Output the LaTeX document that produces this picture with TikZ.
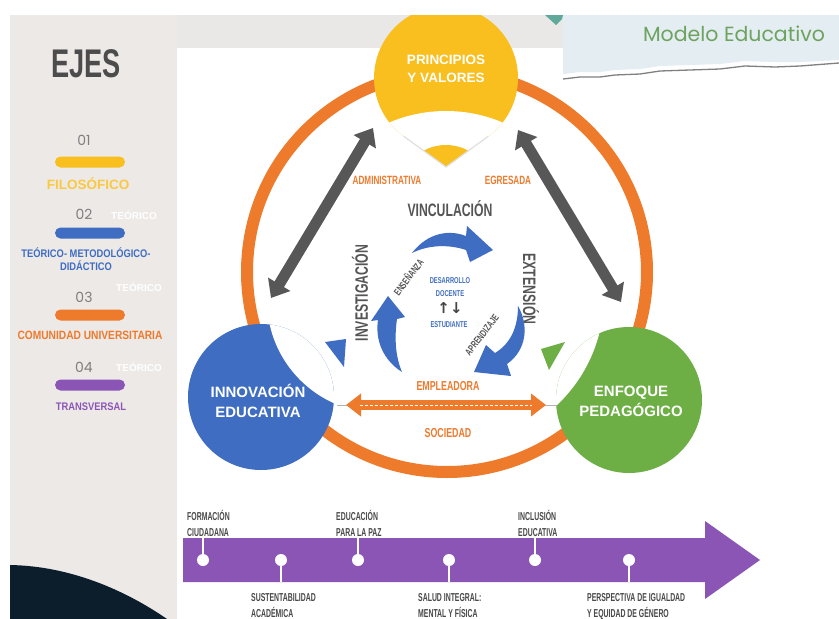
\documentclass[tikz,border=0pt]{standalone}
\usepackage{fontspec}
\setmainfont{Liberation Sans}
\newfontfamily\condfont[FakeStretch=0.68]{Liberation Sans}
\newfontfamily\tallfont[FakeStretch=0.6]{Liberation Sans}
\newfontfamily\narrowfont[FakeStretch=0.85]{Liberation Sans}
\newfontfamily\gothicfont{Poppins}
\newfontfamily\symbfont{DejaVu Sans}
\usetikzlibrary{arrows.meta}
\newcommand{\fsize}[2]{\fontsize{#1}{#2}\selectfont}
\definecolor{panelgrey}{HTML}{EDE9E7}
\definecolor{stripgrey}{HTML}{EAE8E6}
\definecolor{ringorange}{HTML}{EE7A2C}
\definecolor{pinyellow}{HTML}{F8BF1F}
\definecolor{pinblue}{HTML}{3E6DC2}
\definecolor{pingreen}{HTML}{6DAF45}
\definecolor{arrowgrey}{HTML}{575757}
\definecolor{linepurple}{HTML}{8B55B6}
\definecolor{navyblue}{HTML}{0C1D2B}
\definecolor{paperblue}{HTML}{E3EDF2}
\definecolor{titlegreen}{HTML}{7AB46A}
\definecolor{textgrey}{HTML}{555555}
\definecolor{numgrey}{HTML}{7F7F7F}
\definecolor{tabteal}{HTML}{5FA99A}

\begin{document}
\begin{tikzpicture}[x=1pt,y=-1pt]
\tikzstyle{pill}=[rounded corners=5.5pt,minimum width=70pt,minimum height=11pt,inner sep=0pt]
\tikzstyle{num}=[text=numgrey,font=\gothicfont\fsize{14}{14}]
\tikzstyle{ejelabel}=[font=\narrowfont\bfseries\fsize{11}{13},align=center,inner sep=0pt]
\tikzstyle{ghost}=[text=white,font=\bfseries\fsize{10}{10}]
\tikzstyle{bigdot}=[circle,minimum size=146pt,inner sep=0pt]
\tikzstyle{pintext}=[text=white,font=\bfseries\fsize{15}{20},align=center]
\tikzstyle{axis}=[text=textgrey,font=\condfont\bfseries\fsize{18}{18}]
\tikzstyle{actor}=[text=ringorange,font=\condfont\bfseries\fsize{12}{12}]
\tikzstyle{process}=[text=textgrey,font=\condfont\bfseries\fsize{10}{10},inner sep=0pt]
\tikzstyle{coretext}=[text=pinblue,font=\condfont\bfseries\fsize{8.5}{13},align=center,inner sep=1pt]
\tikzstyle{tlabel}=[text=textgrey!85!black,font=\tallfont\bfseries\fsize{11.5}{16},align=left,inner sep=0pt]
\tikzstyle{tdot}=[circle,fill=white,minimum size=12pt,inner sep=0pt]
\tikzstyle{stem}=[white,line width=1.5pt]
\tikzstyle{greyarrow}=[arrowgrey,line width=11pt,{Triangle[width=25pt,length=16pt]}-{Triangle[width=25pt,length=16pt]}]
\tikzstyle{orangearrow}=[ringorange,line width=10pt,{Triangle[width=22pt,length=15pt]}-{Triangle[width=22pt,length=15pt]}]

\fill[white] (0,0) rectangle (839,619);
\useasboundingbox (0,0) rectangle (839,619);
\clip (10,15) rectangle (839,619);

\fill[panelgrey] (10,15) rectangle (177,619);
\fill[navyblue] (10,565) .. controls (70,566) and (125,590) .. (167,619) -- (10,619) -- cycle;
\fill[stripgrey] (177,15) rectangle (563,48);
\fill[tabteal] (545,15) -- (563,15) -- (562,19) -- (556,25) -- cycle;
\fill[paperblue] (563,15) -- (839,15) -- (839,60) -- (800,62) -- (775,62) -- (745,61) -- (720,64) -- (690,65) -- (660,66) -- (640,69) -- (615,70) -- (600,72) -- (580,72) -- (563,74) -- cycle;
\draw[gray,line width=1.3pt] (563,79) -- (580,77) -- (600,77) -- (615,75) -- (640,74) -- (660,71) -- (690,70) -- (720,69) -- (745,66) -- (775,67) -- (800,66) -- (839,63);
\node[text=titlegreen!90!black,font=\gothicfont\fsize{20.5}{20.5}] (title) at (734,34) {Modelo Educativo};

\node[text=textgrey!90!black,font=\condfont\bfseries\fsize{40}{40}] (ejes) at (86,64) {EJES};
\node[num] (n1) at (84,140) {01};
\node[pill,fill=pinyellow] (p1) at (90,162) {};
\node[text=pinyellow!85!white,font=\bfseries\fsize{13.5}{13.5},inner sep=0pt] (e1) at (88,184) {FILOSÓFICO};
\node[ghost] (g2) at (134,215) {TEÓRICO};
\node[num] (n2) at (84,214) {02};
\node[pill,fill=pinblue] (p2) at (90,233) {};
\node[ejelabel,text=pinblue] (e2) at (86,259) {TEÓRICO- METODOLÓGICO-\\DIDÁCTICO};
\node[ghost] (g3) at (139,287) {TEÓRICO};
\node[num] (n3) at (84,297) {03};
\node[pill,fill=ringorange] (p3) at (90,315) {};
\node[ejelabel,text=ringorange,font=\narrowfont\bfseries\fsize{12}{12}] (e3) at (90,335) {COMUNIDAD UNIVERSITARIA};
\node[ghost] (g4) at (139,367) {TEÓRICO};
\node[num] (n4) at (84,367) {04};
\node[pill,fill=linepurple] (p4) at (90,385) {};
\node[ejelabel,text=linepurple] (e4) at (91,407) {TRANSVERSAL};

\draw[ringorange,line width=12pt] (447,272) circle (200);

\coordinate (pintip) at (446,167);
\coordinate (pinc) at (446,78);
\fill[pinyellow] (pintip) -- ([shift={(54:72)}]pinc) arc[start angle=54,end angle=-234,radius=72] -- cycle;
\begin{scope}
\clip (pintip) -- ([shift={(54:72)}]pinc) arc[start angle=54,end angle=-234,radius=72] -- cycle;
\fill[white] (446,256) circle (145);
\fill[pinyellow] (446,192) circle (47);
\end{scope}
\draw[black!12,line width=1.2pt] ([shift={(126:72)}]pinc) -- (pintip) -- ([shift={(54:72)}]pinc);
\node[pintext,font=\bfseries\fsize{13.5}{18}] (principios) at (446,69) {PRINCIPIOS\\Y VALORES};

\node[bigdot,fill=pinblue] (innov) at (261,397) {};
\begin{scope}
\clip (innov.center) circle (73);
\fill[white] (380,300) circle (113);
\end{scope}
\node[pintext] (innovtext) at (258,401) {INNOVACIÓN\\EDUCATIVA};

\node[bigdot,fill=pingreen] (enfoque) at (629,400) {};
\begin{scope}
\clip (enfoque.center) circle (73);
\fill[white] (454,296) circle (150);
\end{scope}
\node[pintext] (enfoquetext) at (631,401) {ENFOQUE\\PEDAGÓGICO};

\fill[pinblue] (325,342) -- (346,339) -- (344,367) -- cycle;
\fill[pingreen] (541,349) -- (565,342) -- (549,370) -- cycle;

\coordinate (gl1) at (271,298);
\coordinate (gl2) at (373,128);
\coordinate (gr1) at (518,130);
\coordinate (gr2) at (621,302);
\draw[greyarrow] (gl1) -- (gl2);
\draw[greyarrow] (gr1) -- (gr2);

\coordinate (bn) at (337,405);
\coordinate (gn) at (557,405);
\coordinate (ol) at (346,405);
\coordinate (or) at (546,405);
\draw[gray!60,line width=0.5pt] (bn) -- (gn);
\draw[orangearrow] (ol) -- (or);
\draw[white,line width=0.6pt,dash pattern=on 3pt off 2pt] (360,405) -- (532,405);

\node[actor] (admin) at (387,180) {ADMINISTRATIVA};
\node[actor] (egresada) at (508,180) {EGRESADA};
\node[actor,font=\condfont\bfseries\fsize{13}{13}] (empleadora) at (448,386) {EMPLEADORA};
\node[actor,font=\condfont\bfseries\fsize{13}{13}] (sociedad) at (448,433) {SOCIEDAD};

\node[axis] (vinc) at (450,209) {VINCULACIÓN};
\node[axis,rotate=90] (invest) at (360,293) {INVESTIGACIÓN};
\node[axis,rotate=-90] (ext) at (531,289) {EXTENSIÓN};

\fill[pinblue] (412,253) .. controls (425,236) and (445,228) .. (466,236) -- (467,226) -- (493,250) -- (470,262) -- (466,250) .. controls (448,244) and (428,245) .. (412,253) -- cycle;
\fill[pinblue] (518,306) .. controls (529,325) and (527,350) .. (507,364) -- (511,376) -- (474,372) -- (486,345) -- (495,353) .. controls (510,344) and (518,328) .. (518,306) -- cycle;
\fill[pinblue] (402,372) .. controls (383,360) and (375,340) .. (378,320) -- (371,321) -- (388,296) -- (405,317) -- (397,319) .. controls (394,340) and (396,358) .. (402,372) -- cycle;

\node[process,rotate=53] (ensenanza) at (408,277) {ENSEÑANZA};
\node[process,rotate=52] (aprendizaje) at (482,335) {APRENDIZAJE};
\node[coretext] (docente) at (450,287) {DESARROLLO\\DOCENTE};
\node[text=textgrey!80!black,font=\symbfont\bfseries\fsize{15}{15},inner sep=1pt] (arrs) at (450,308) {↑↓};
\node[coretext] (estudiante) at (449,325) {ESTUDIANTE};

\fill[linepurple] (183,538) -- (705,538) -- (705,521) -- (760,560) -- (705,599) -- (705,582) -- (183,582) -- cycle;
\foreach \n/\x/\y in {1/203/538,2/281/582,3/358/538,4/449/582,5/535/538,6/629/582} {
  \coordinate (e\n) at (\x,\y);
  \node[tdot] (t\n) at (\x,560) {};
  \draw[stem] (t\n) -- (e\n);
}
\node[tlabel,anchor=south west] (l1) at (187,537) {FORMACIÓN\\CIUDADANA};
\node[tlabel,anchor=north west] (l2) at (251,593) {SUSTENTABILIDAD\\ACADÉMICA};
\node[tlabel,anchor=south west] (l3) at (336,537) {EDUCACIÓN\\PARA LA PAZ};
\node[tlabel,anchor=north west] (l4) at (418,593) {SALUD INTEGRAL:\\MENTAL Y FÍSICA};
\node[tlabel,anchor=south west] (l5) at (518,537) {INCLUSIÓN\\EDUCATIVA};
\node[tlabel,anchor=north west] (l6) at (587,593) {PERSPECTIVA DE IGUALDAD\\Y EQUIDAD DE GÉNERO};
\end{tikzpicture}
\end{document}
